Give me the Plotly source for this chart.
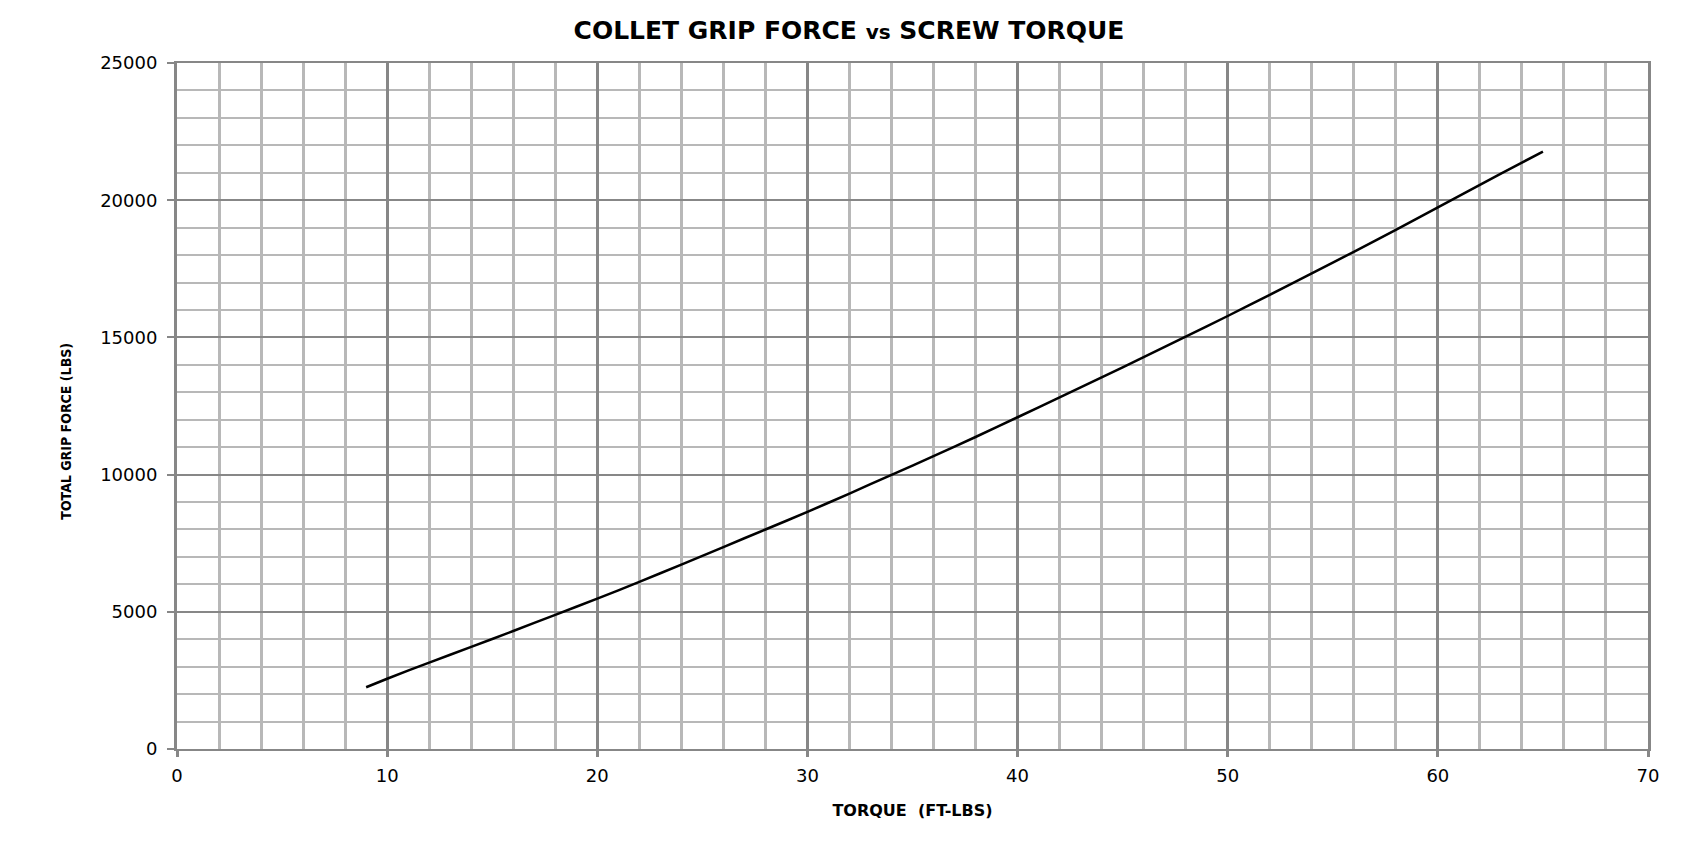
import plotly.graph_objects as go

torque = [9, 10, 12, 14, 16, 18, 20, 22, 24, 26, 28, 30, 32, 34, 36, 38, 40,
          42, 44, 46, 48, 50, 52, 54, 56, 58, 60, 62, 64, 65]
grip_force = [2250, 2560, 3150, 3720, 4300, 4890, 5480, 6090, 6720, 7360, 8000,
              8640, 9310, 9990, 10670, 11370, 12090, 12810, 13540, 14280, 15030,
              15780, 16550, 17330, 18120, 18920, 19740, 20560, 21370, 21770]

title_main = "COLLET GRIP FORCE"
title_vs = "vs"
title_end = "SCREW TORQUE"
x_title = "TORQUE\u00a0\u00a0(FT-LBS)"
y_title = "TOTAL GRIP FORCE (LBS)"

MAJOR = "#878787"
MINOR = "#b8b8b8"

fig = go.Figure()
fig.add_trace(go.Scatter(
    x=torque, y=grip_force, mode="lines",
    line=dict(color="black", width=2.5, shape="spline", smoothing=0.6),
    showlegend=False,
))

W, H = 1698, 847
OFF = 8  # page body margin
PX0, PX1, PY0, PY1 = 176.5, 1648, 62.7, 749.3
L, R, T, B = PX0 - OFF, W - PX1 + OFF, PY0 - OFF, H - PY1 + OFF

fig.update_layout(
    width=W, height=H,
    margin=dict(l=L, r=R, t=T, b=B, autoexpand=False),
    paper_bgcolor="white", plot_bgcolor="white",
    title=dict(
        text=f"<b>{title_main} <span style='font-size:20px'>{title_vs}</span> {title_end}</b>",
        x=(849 - OFF) / W, xanchor="center", xref="container",
        y=1 - (30 - OFF) / H, yanchor="middle", yref="container",
        font=dict(family="DejaVu Sans", size=25, color="black"),
    ),
    font=dict(family="DejaVu Sans", color="black"),
    annotations=[dict(
        text=f"<b>{y_title}</b>", textangle=-90, showarrow=False,
        xref="paper", x=0, xanchor="center", xshift=65.5 - PX0,
        yref="paper", y=(PY1 - 431.7) / (PY1 - PY0), yanchor="middle",
        font=dict(family="Liberation Sans Narrow, DejaVu Sans Condensed, sans-serif",
                  size=14, color="black"),
    )],
)

fig.update_xaxes(
    range=[0, 70], dtick=10, tick0=0,
    showgrid=True, gridcolor=MAJOR, gridwidth=3,
    minor=dict(dtick=2, showgrid=True, gridcolor=MINOR, gridwidth=3, ticks=""),
    showline=True, linecolor=MAJOR, linewidth=2, mirror=True,
    ticks="outside", ticklen=6, tickwidth=3, tickcolor=MAJOR,
    ticklabelstandoff=3,
    tickfont=dict(family="DejaVu Sans", size=18, color="black"),
    zeroline=False,
    title=dict(text=f"<b>{x_title}</b>", standoff=20,
               font=dict(family="DejaVu Sans", size=16, color="black")),
)
fig.update_yaxes(
    range=[0, 25000], dtick=5000, tick0=0, tickformat="d",
    showgrid=True, gridcolor=MAJOR, gridwidth=2,
    minor=dict(dtick=1000, showgrid=True, gridcolor=MINOR, gridwidth=2, ticks=""),
    showline=True, linecolor=MAJOR, linewidth=3, mirror=True,
    ticks="outside", ticklen=7, tickwidth=2, tickcolor=MAJOR,
    ticklabelstandoff=6,
    tickfont=dict(family="DejaVu Sans", size=18, color="black"),
    zeroline=False,
)

fig.write_html("out.html")
